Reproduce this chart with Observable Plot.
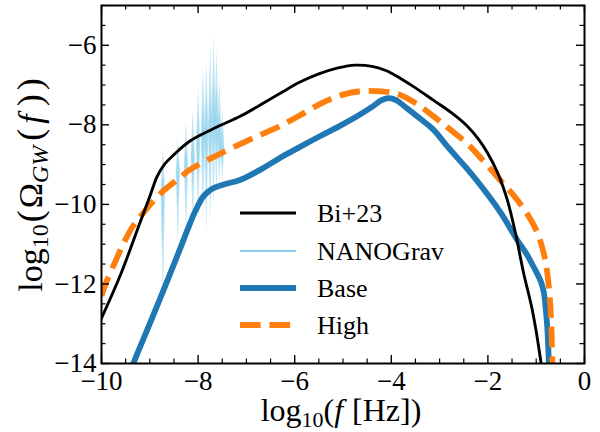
<!DOCTYPE html>
<html>
<head>
<meta charset="utf-8">
<script src="https://cdn.jsdelivr.net/npm/d3@7"></script>
<script src="https://cdn.jsdelivr.net/npm/@observablehq/plot@0.6"></script>
<style>
  html, body { margin: 0; padding: 0; background: #fff; }
</style>
</head>
<body>
<div id="chart"></div>
<script>
// Gravitational-wave background spectra, log10(Omega_GW) against log10(f / Hz)

// Bi+23 reference spectrum
const bi23X = [-10, -9.6, -9.2, -9.0, -8.85, -8.7, -8.5, -8.16, -7.6, -7.12, -6.6, -6.29, -5.9, -5.5, -5.1, -4.75, -4.4, -4.1, -3.8, -3.5, -3.13, -2.75, -2.42, -2.2, -2.01, -1.8, -1.6, -1.43, -1.26, -1.08, -0.91, -0.87];
const bi23Y = [-12.86, -11.75, -10.45, -9.8, -9.3, -9.0, -8.75, -8.4, -8.05, -7.78, -7.42, -7.2, -6.93, -6.72, -6.57, -6.5, -6.53, -6.64, -6.84, -7.07, -7.38, -7.7, -8.04, -8.35, -8.7, -9.2, -9.88, -10.72, -11.73, -12.66, -13.9, -14.3];

// "Base" model
const baseX = [-9.42, -9.34, -9.0, -8.63, -8.4, -8.22, -8.05, -7.89, -7.7, -7.47, -7.12, -6.7, -6.29, -5.9, -5.5, -5.1, -4.7, -4.4, -4.2, -4.05, -3.9, -3.7, -3.4, -3.13, -2.8, -2.42, -2.1, -1.74, -1.39, -1.2, -1.05, -0.9, -0.84, -0.79, -0.77, -0.74, -0.73];
const baseY = [-14.3, -14.0, -13.0, -11.9, -11.2, -10.64, -10.15, -9.8, -9.6, -9.5, -9.38, -9.12, -8.82, -8.56, -8.3, -8.05, -7.78, -7.55, -7.38, -7.33, -7.38, -7.56, -7.85, -8.12, -8.6, -9.12, -9.6, -10.2, -10.9, -11.25, -11.58, -11.95, -12.23, -12.8, -13.1, -13.9, -14.3];

// "High" model
const highX = [-10, -9.9, -9.7, -9.54, -9.35, -9.19, -8.95, -8.71, -8.4, -8.16, -7.75, -7.33, -6.8, -6.29, -5.8, -5.4, -5.0, -4.6, -4.2, -3.87, -3.5, -3.13, -2.8, -2.42, -2.1, -1.74, -1.45, -1.18, -0.98, -0.85, -0.77, -0.71, -0.68, -0.66];
const highY = [-12.3, -11.95, -11.4, -10.97, -10.55, -10.3, -9.95, -9.65, -9.35, -9.12, -8.85, -8.6, -8.3, -8.02, -7.7, -7.43, -7.24, -7.15, -7.16, -7.22, -7.45, -7.78, -8.1, -8.48, -8.9, -9.4, -9.8, -10.25, -10.7, -11.2, -11.73, -12.5, -13.3, -14.3];

// NANOGrav free-spectrum bins: log10 frequency, lower / median / upper of log10(Omega_GW)
const nanoFreq   = [-8.72, -8.41, -8.24, -8.10, -7.99, -7.89, -7.82, -7.74, -7.67, -7.61, -7.55, -7.49];
const nanoLower  = [-12.5, -11.0, -10.7, -10.5, -10.4, -10.3, -10.7, -10.5, -10.1, -9.8, -9.5, -9.4];
const nanoMedian = [-9.7, -9.2, -9.0, -8.8, -8.5, -8.3, -8.2, -8.1, -7.9, -8.0, -8.3, -8.6];
const nanoUpper  = [-8.55, -8.3, -7.95, -7.65, -7.05, -6.55, -6.4, -6.0, -5.75, -6.1, -6.9, -7.6];

// Axis ticks
const xMajor = [-10, -8, -6, -4, -2, 0];
const xMinor = d3.range(-10, 0.001, 0.5).filter(v => !xMajor.includes(v));
const yMajor = [-14, -12, -10, -8, -6];
const yMinor = d3.range(-14, -4.999, 0.5).filter(v => !yMajor.includes(v));

// Legend entries
const legendLabels = ["Bi+23", "NANOGrav", "Base", "High"];

// Layout
const W = 600, H = 432;
const mL = 101, mR = 16, mT = 5, mB = 69;
const innerW = W - mL - mR, innerH = H - mT - mB;
const serif = "'Liberation Serif', 'Times New Roman', Times, serif";

const cBlue = "#1f77b4", cOrange = "#ff7f0e", cSky = "#87ceeb";

// Violin outlines for the NANOGrav bins
const halfW = 0.045;
const violinOuter = [], violinInner = [];
nanoFreq.forEach((f, i) => {
  const lo = nanoLower[i], md = nanoMedian[i], up = nanoUpper[i];
  const q1 = (lo + md) / 2, q3 = (md + up) / 2;
  [[lo, 0], [q1, 0.5], [md, 1], [q3, 0.5], [up, 0]].forEach(([y, s]) =>
    violinOuter.push({bin: i, y, x1: f - s * halfW, x2: f + s * halfW}));
  [[q1, 0], [md, 0.7], [q3, 0]].forEach(([y, s]) =>
    violinInner.push({bin: i, y, x1: f - s * halfW, x2: f + s * halfW}));
});

const fmt = d => d === 0 ? "0" : "\u2212" + Math.abs(d);

const svg = Plot.plot({
  width: W,
  height: H,
  marginLeft: mL,
  marginRight: mR,
  marginTop: mT,
  marginBottom: mB,
  style: {fontFamily: serif, fontSize: "27px", background: "#fff", color: "black"},
  x: {domain: [-10, 0], axis: null},
  y: {domain: [-14, -5], axis: null},
  marks: [
    Plot.areaX(violinOuter, {y: "y", x1: "x1", x2: "x2", z: "bin", fill: cSky, fillOpacity: 0.5, curve: "linear", clip: true}),
    Plot.areaX(violinInner, {y: "y", x1: "x1", x2: "x2", z: "bin", fill: cSky, fillOpacity: 0.6, curve: "linear", clip: true}),
    Plot.line(baseX, {x: baseX, y: baseY, stroke: cBlue, strokeWidth: 5.8, curve: "catmull-rom", clip: true}),
    Plot.line(highX, {x: highX, y: highY, stroke: cOrange, strokeWidth: 5.8, strokeDasharray: "20.6 8.9", strokeLinecap: "butt", curve: "catmull-rom", clip: true}),
    Plot.line(bi23X, {x: bi23X, y: bi23Y, stroke: "black", strokeWidth: 2.9, curve: "catmull-rom", clip: true}),

    // inward ticks on all four sides
    Plot.ruleX(xMajor, {x: d => d, insetTop: innerH - 8, stroke: "black", strokeWidth: 1.4}),
    Plot.ruleX(xMajor, {x: d => d, insetBottom: innerH - 8, stroke: "black", strokeWidth: 1.4}),
    Plot.ruleX(xMinor, {x: d => d, insetTop: innerH - 4.5, stroke: "black", strokeWidth: 1.2}),
    Plot.ruleX(xMinor, {x: d => d, insetBottom: innerH - 4.5, stroke: "black", strokeWidth: 1.2}),
    Plot.ruleY(yMajor, {y: d => d, insetRight: innerW - 8, stroke: "black", strokeWidth: 1.4}),
    Plot.ruleY(yMajor, {y: d => d, insetLeft: innerW - 8, stroke: "black", strokeWidth: 1.4}),
    Plot.ruleY(yMinor, {y: d => d, insetRight: innerW - 4.5, stroke: "black", strokeWidth: 1.2}),
    Plot.ruleY(yMinor, {y: d => d, insetLeft: innerW - 4.5, stroke: "black", strokeWidth: 1.2}),

    Plot.axisX(xMajor, {anchor: "bottom", tickSize: 0, tickPadding: 7, tickFormat: fmt, label: null, fontSize: 27}),
    Plot.axisY(yMajor, {anchor: "left", tickSize: 0, tickPadding: 5, tickFormat: fmt, label: null, fontSize: 27}),
    Plot.frame({stroke: "black", strokeWidth: 2})
  ]
});

const root = d3.select(svg);

// x-axis title: log10(f [Hz])
const xt = root.append("text")
  .attr("x", 341).attr("y", 421)
  .attr("text-anchor", "middle")
  .attr("font-family", serif).attr("font-size", 32).attr("fill", "black");
xt.append("tspan").text("log");
xt.append("tspan").attr("dy", 6).attr("font-size", 22).text("10");
xt.append("tspan").attr("dy", -6).text("(");
xt.append("tspan").attr("font-style", "italic").text("f");
xt.append("tspan").attr("dx", 9).text("[Hz])");

// y-axis title: log10(Omega_GW(f))
const yt = root.append("text")
  .attr("transform", "translate(42,185) rotate(-90)")
  .attr("text-anchor", "middle")
  .attr("font-family", serif).attr("font-size", 34).attr("fill", "black");
yt.append("tspan").text("log");
yt.append("tspan").attr("dy", 6).attr("font-size", 24).text("10");
yt.append("tspan").attr("dy", -6).attr("dx", 2).attr("font-size", 36).text("(");
yt.append("tspan").attr("dx", 2).text("\u03A9");
yt.append("tspan").attr("dy", 6).attr("font-size", 24).attr("font-style", "italic").text("GW");
yt.append("tspan").attr("dy", -6).attr("dx", 5).attr("font-size", 36).text("(");
yt.append("tspan").attr("dx", 5).attr("font-style", "italic").text("f");
yt.append("tspan").attr("dx", 8).attr("font-size", 36).text(")");
yt.append("tspan").attr("dx", 4).attr("font-size", 36).text(")");

// legend
const legendStyles = [
  {stroke: "black", width: 2.9, dash: null},
  {stroke: cSky, width: 2, dash: null},
  {stroke: cBlue, width: 5.8, dash: null},
  {stroke: cOrange, width: 5.8, dash: "20.6 8.9"}
];
const legendRows = [213, 251, 288, 325];
const lg = root.append("g");
legendLabels.forEach((label, i) => {
  const s = legendStyles[i];
  const yy = legendRows[i];
  const ln = lg.append("line")
    .attr("x1", 240).attr("x2", 296).attr("y1", yy).attr("y2", yy)
    .attr("stroke", s.stroke).attr("stroke-width", s.width);
  if (s.dash) ln.attr("stroke-dasharray", s.dash);
  lg.append("text")
    .attr("x", 317).attr("y", yy + 8.5)
    .attr("text-anchor", "start")
    .attr("font-family", serif).attr("font-size", 26).attr("fill", "black")
    .text(label);
});

document.getElementById("chart").appendChild(svg);
</script>
</body>
</html>
